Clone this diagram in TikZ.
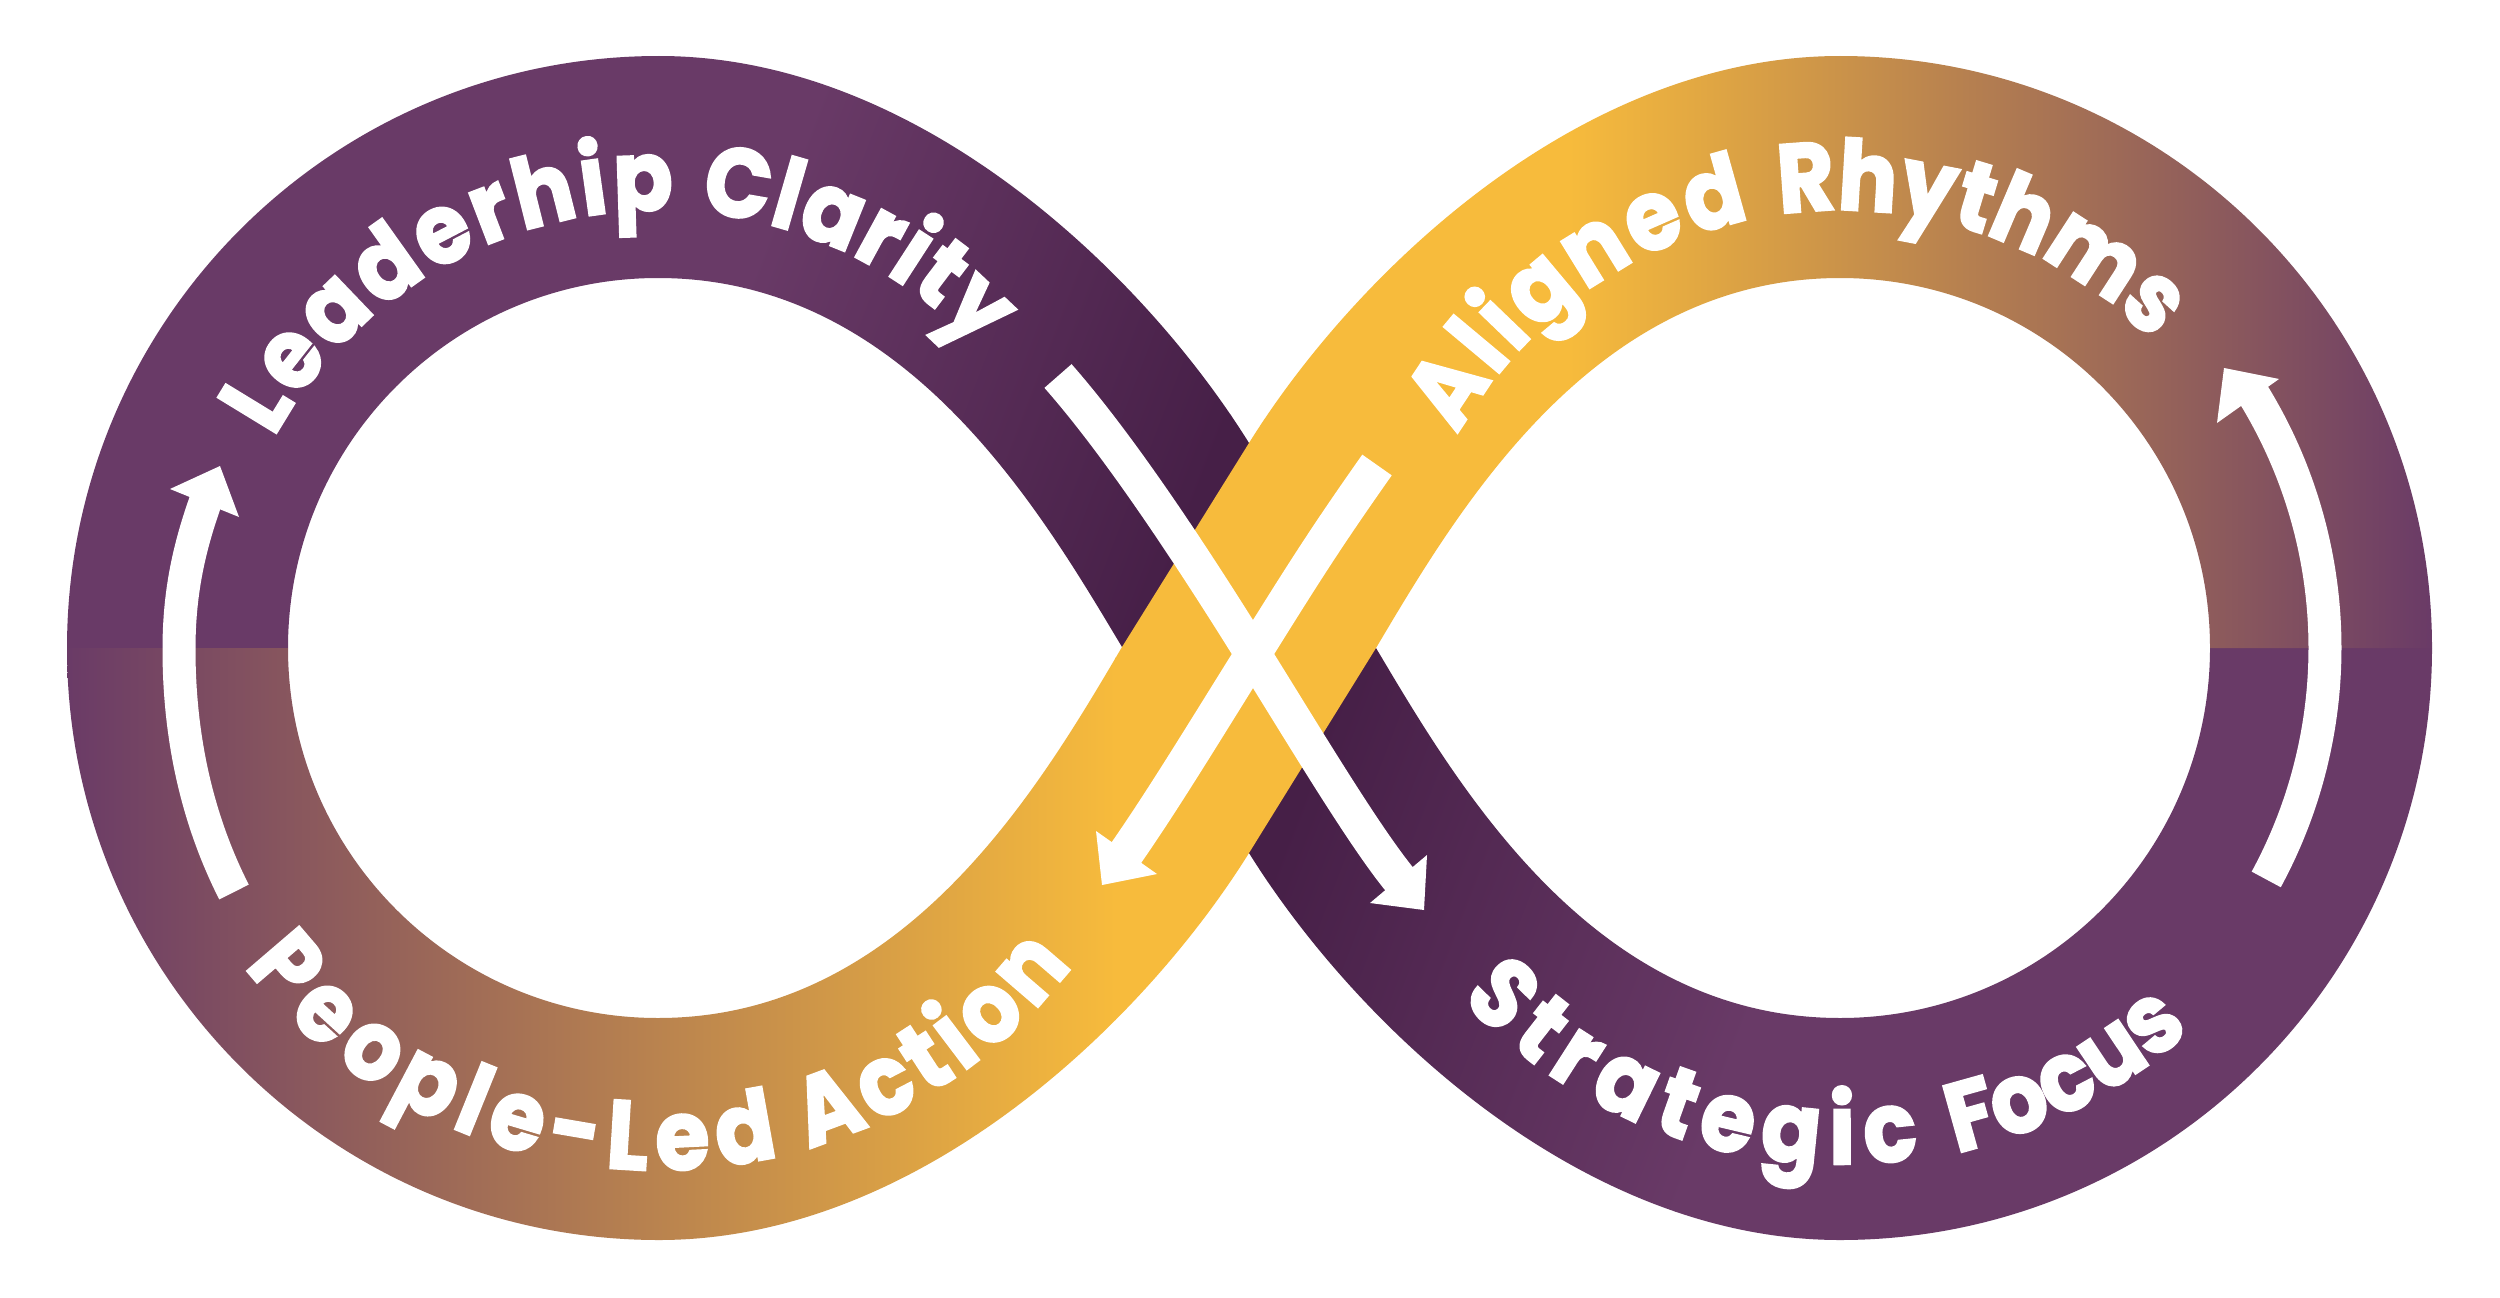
\documentclass[tikz,border=0pt]{standalone}
\usepackage{fontspec}
\usetikzlibrary{decorations.text}
\newfontfamily\bandfam{Poppins}[FakeStretch=0.9,BoldFeatures={FakeBold=2.6,FakeStretch=0.9}]
\newcommand{\bandfont}{\bandfam\bfseries\fontsize{97pt}{110pt}\selectfont\color{white}}
\definecolor{plum}{HTML}{693A67}
\definecolor{plumdark}{HTML}{461F47}
\definecolor{gold}{HTML}{F7BB3C}
\tikzset{
  shaft/.style={draw=white,line width=#1,line cap=butt},
  headtip/.style={fill=white,draw=none},
  bandtext/.style={decorate,decoration={text along path,text align={fit to path},text={#1}}}
}
\begin{document}
\begin{tikzpicture}[x=1pt,y=-1pt]
\useasboundingbox (0,0) rectangle (2500,1298);
\fill[white] (0,0) rectangle (2500,1298);
\coordinate (L) at (658,648);
\coordinate (R) at (1840,648);
\coordinate (N1) at (1249,443);
\coordinate (N2) at (1376,648);
\coordinate (N3) at (1249,853);
\coordinate (N4) at (1122,647);
% plum band: upper-left loop, crossing, lower-right loop
\begin{scope}
\clip (67,648) arc[start angle=180,end angle=90,radius=592pt]
  .. controls (918,56) and (1143,273) .. (N1) -- (N2)
  .. controls (1458,786) and (1593,1018) .. (1840,1018)
  arc[start angle=-90,end angle=0,radius=370pt] -- (2432,648)
  arc[start angle=0,end angle=-90,radius=592pt]
  .. controls (1580,1240) and (1355,1023) .. (N3) -- (N4)
  .. controls (1040,510) and (905,278) .. (658,278)
  arc[start angle=90,end angle=180,radius=370pt] -- cycle;
  \begin{scope}[transform canvas={shift={(1249pt,-648pt)},rotate=-21}]
    \fill[plum] (-1800,-1800) rectangle (-600,1800);
    \shade[left color=plum,right color=plumdark] (-601,-1800) rectangle (-100,1800);
    \fill[plumdark] (-101,-1800) rectangle (101,1800);
    \shade[left color=plumdark,right color=plum] (100,-1800) rectangle (601,1800);
    \fill[plum] (600,-1800) rectangle (1800,1800);
  \end{scope}
\end{scope}
% gold band: lower-left loop, crossing, upper-right loop
\begin{scope}
\clip (67,648) arc[start angle=180,end angle=270,radius=592pt]
  .. controls (918,1240) and (1143,1023) .. (N3) -- (N2)
  .. controls (1458,510) and (1593,278) .. (1840,278)
  arc[start angle=90,end angle=0,radius=370pt] -- (2432,648)
  arc[start angle=0,end angle=90,radius=592pt]
  .. controls (1580,56) and (1355,273) .. (N1) -- (N4)
  .. controls (1040,786) and (905,1018) .. (658,1018)
  arc[start angle=270,end angle=180,radius=370pt] -- cycle;
  \shade[left color=plum,right color=gold] (60,0) rectangle (1116,1298);
  \fill[gold] (1115,0) rectangle (1570,1298);
  \shade[left color=gold,right color=plum] (1569,0) rectangle (2436,1298);
\end{scope}
% arrows
\coordinate (a1s) at (234,892); \coordinate (a1m) at (179,649); \coordinate (a1e) at (206,500);
\coordinate (a1t) at (220,466); \coordinate (a1c) at (170,489); \coordinate (a1d) at (239,517);
\draw[shaft=33pt] (a1s) .. controls (196,817) and (179,735) .. (a1m) .. controls (179,590) and (190,545) .. (a1e);
\fill[headtip] (a1t) -- (a1c) -- (a1d) -- cycle;
\coordinate (a2t) at (2224,368); \coordinate (a2c) at (2279,379); \coordinate (a2d) at (2217,423);
\draw[shaft=33pt] ([shift={(-28.5:485pt)}]R) arc[start angle=-28.5,end angle=32,radius=485pt];
\fill[headtip] (a2t) -- (a2c) -- (a2d) -- cycle;
\coordinate (a3s) at (1058,376); \coordinate (X) at (1253,654); \coordinate (a3e) at (1400,880);
\coordinate (a3t) at (1424,910); \coordinate (a3c) at (1427,855); \coordinate (a3d) at (1370,903);
\draw[shaft=36pt] (a3s) .. controls (1124,451) and (1200,569) .. (X) .. controls (1306,739) and (1364,836) .. (a3e);
\fill[headtip] (a3t) -- (a3c) -- (a3d) -- cycle;
\coordinate (a4s) at (1377,465); \coordinate (a4e) at (1124,856);
\coordinate (a4t) at (1102,885); \coordinate (a4c) at (1096,831); \coordinate (a4d) at (1157,874);
\draw[shaft=36pt] (a4s) .. controls (1327,536) and (1306,569) .. (X) .. controls (1200,739) and (1161,803) .. (a4e);
\fill[headtip] (a4t) -- (a4c) -- (a4d) -- cycle;
% labels
\path[bandtext={|\bandfont|Leaderhip}] ([shift={(151.3:438pt)}]L) arc[start angle=151.3,end angle=88,radius=438pt];
\path[bandtext={|\bandfont|Clarity}] ([shift={(84.5:438pt)}]L) arc[start angle=84.5,end angle=43,radius=438pt];
\path[bandtext={|\bandfont|Aligned}] ([shift={(150.8:438pt)}]R) arc[start angle=150.8,end angle=101.8,radius=438pt];
\path[bandtext={|\bandfont|Rhythms}] ([shift={(97.9:438pt)}]R) arc[start angle=97.9,end angle=44.6,radius=438pt];
\path[bandtext={|\bandfont|People-Led}] ([shift={(217.6:522pt)}]L) arc[start angle=217.6,end angle=283.4,radius=522pt];
\path[bandtext={|\bandfont|Action}] ([shift={(286.8:522pt)}]L) arc[start angle=286.8,end angle=322.5,radius=522pt];
\path[bandtext={|\bandfont|Strategic}] ([shift={(222.8:516pt)}]R) arc[start angle=222.8,end angle=278.8,radius=516pt];
\path[bandtext={|\bandfont|Focus}] ([shift={(283:518pt)}]R) arc[start angle=283,end angle=312.5,radius=518pt];
\end{tikzpicture}
\end{document}
